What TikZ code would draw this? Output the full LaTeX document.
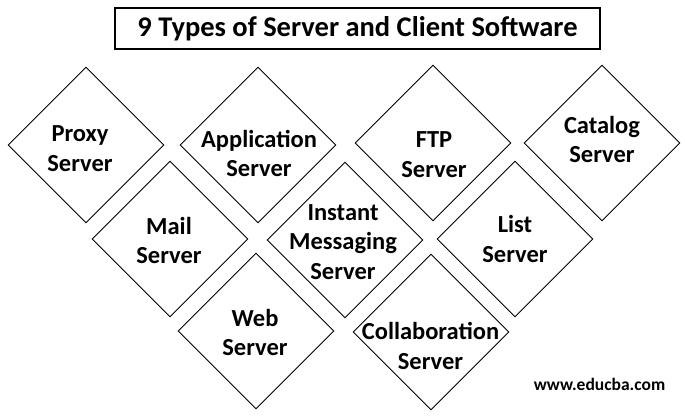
\documentclass[tikz,border=0pt]{standalone}
\usepackage{fontspec}
\setmainfont{Carlito}
\usetikzlibrary{shapes.geometric}
\begin{document}
\begin{tikzpicture}[x=1pt,y=-1pt,
  dia/.style={shape=diamond,draw=black,line width=0.9pt,aspect=1,
    minimum width=156pt,minimum height=156pt,inner sep=0pt},
  txt/.style={align=center,inner sep=0pt,
    font=\bfseries\fontsize{24.5}{29.5}\selectfont},
  titlebox/.style={draw=black,line width=1.3pt,minimum width=485pt,
    minimum height=41pt,inner sep=0pt,
    font=\bfseries\fontsize{28.5}{32}\selectfont}]
\useasboundingbox (0,0) rectangle (685,420);

% heading
\node[titlebox] (title) at (357.5,28.5) {9 Types of Server and Client Software};

% top row
\node[dia] (proxy) at (86,145) {};
\node[dia] (app) at (258,145) {};
\node[dia] (ftp) at (433,143) {};
\node[dia] (catalog) at (602,143) {};
% middle row
\node[dia] (mail) at (170,239) {};
\node[dia] (im) at (345,240) {};
\node[dia] (list) at (515,239) {};
% bottom row
\node[dia] (web) at (256,331) {};
\node[dia] (collab) at (431,332) {};

% labels
\node[txt] (proxy-t) at (80,148.5) {Proxy\\Server};
\node[txt] (app-t) at (259,153.5) {Application\\Server};
\node[txt] (ftp-t) at (434,154.5) {FTP\\Server};
\node[txt] (catalog-t) at (602,139.5) {Catalog\\Server};
\node[txt] (mail-t) at (169,240.5) {Mail\\Server};
\node[txt] (im-t) at (343,242) {Instant\\Messaging\\Server};
\node[txt] (list-t) at (515,239) {List\\Server};
\node[txt] (web-t) at (255,332.5) {Web\\Server};
\node[txt] (collab-t) at (430.5,346) {Collaboration\\Server};

% site address
\node[font=\bfseries\fontsize{17.5}{20}\selectfont,inner sep=0pt] (site) at (599.5,384) {www.educba.com};
\end{tikzpicture}
\end{document}
